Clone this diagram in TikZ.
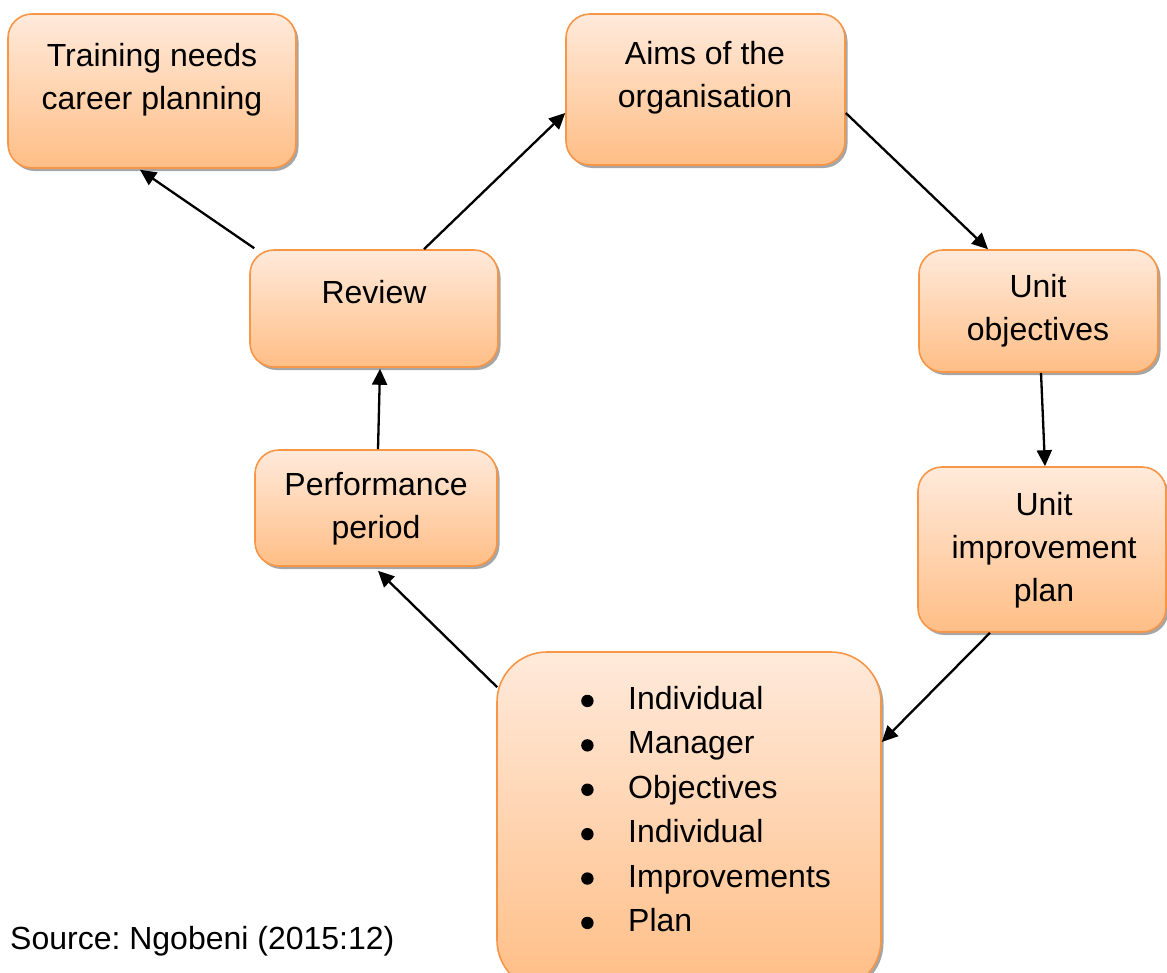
\documentclass[tikz,border=0pt]{standalone}
\usepackage{fontspec}
\setmainfont{Liberation Sans}
\usetikzlibrary{arrows.meta,shadows,calc}
\definecolor{oborder}{HTML}{F79646}
\definecolor{otop}{HTML}{FFEADB}
\definecolor{obot}{HTML}{FFBE86}
\newcommand{\mybul}{\makebox[47pt][l]{\raisebox{2.3pt}{\tikz\fill (0,0) circle [radius=6.2pt];}}}
\frenchspacing
\begin{document}
\begin{tikzpicture}[x=1pt,y=-1pt,
 box/.style={draw=oborder, line width=1.6pt, rounded corners=24pt, top color=otop, bottom color=obot,
   drop shadow={shadow xshift=2.5pt, shadow yshift=-3pt, fill=black!35, opacity=1}, inner sep=0pt},
 lbl/.style={font=\fontsize{32}{43}\selectfont, align=center, inner sep=0pt},
 arr/.style={line width=2.3pt, -{Triangle[length=16pt,width=15pt]}}]
\useasboundingbox (0,0) rectangle (1167,972);
% boxes
\node[box, minimum width=288pt, minimum height=154pt] (train) at (152,91) {};
\node[box, minimum width=279pt, minimum height=151pt] (aims) at (705.5,89.5) {};
\node[box, minimum width=248pt, minimum height=117pt] (rev) at (374,308.5) {};
\node[box, minimum width=239pt, minimum height=122pt] (uobj) at (1038.5,311) {};
\node[box, minimum width=242pt, minimum height=116pt] (perf) at (376,508) {};
\node[box, minimum width=248pt, minimum height=165pt] (uimp) at (1042,549.5) {};
\node[box, rounded corners=50pt, minimum width=384pt, minimum height=338pt] (list) at (689,821) {};
% texts
\node[lbl] (ttrain) at (152,79.3) {Training needs\\career planning};
\node[lbl] (taims) at (705,77.8) {Aims of the\\organisation};
\node[lbl] (trev) at (374,292) {Review};
\node[lbl] (tuobj) at (1038,310.8) {Unit\\objectives};
\node[lbl] (tperf) at (376,509) {Performance\\period};
\node[lbl] (tuimp) at (1044,550) {Unit\\improvement\\plan};
\node[lbl, align=left, font=\fontsize{32}{44.4}\selectfont] (tlist) at (581,809) [anchor=west]
  {\mybul Individual\\
   \mybul Manager\\
   \mybul Objectives\\
   \mybul Individual\\
   \mybul Improvements\\
   \mybul Plan};
\node[lbl, anchor=base west] (src) at (10,949.5) {Source: Ngobeni (2015:12)};
% connectors
\draw[arr] ($(rev.north west)+(5,-1)$) -- ($(train.south)+(-12,1)$);
\draw[arr] ($(rev.north)+(50,0)$) -- ($(aims.west)+(0,23.5)$);
\draw[arr] ($(aims.east)+(0,23.5)$) -- ($(uobj.north)+(-50.5,0)$);
\draw[arr] ($(uobj.south)+(2.5,0)$) -- ($(uimp.north)+(3,0)$);
\draw[arr] ($(uimp.south)+(-52,0)$) -- ($(list.east)+(0,-79)$);
\draw[arr] ($(list.north west)+(1,36)$) -- ($(perf.south)+(2,4)$);
\draw[arr] ($(perf.north)+(2,0)$) -- ($(rev.south)+(6,1)$);
\end{tikzpicture}
\end{document}
